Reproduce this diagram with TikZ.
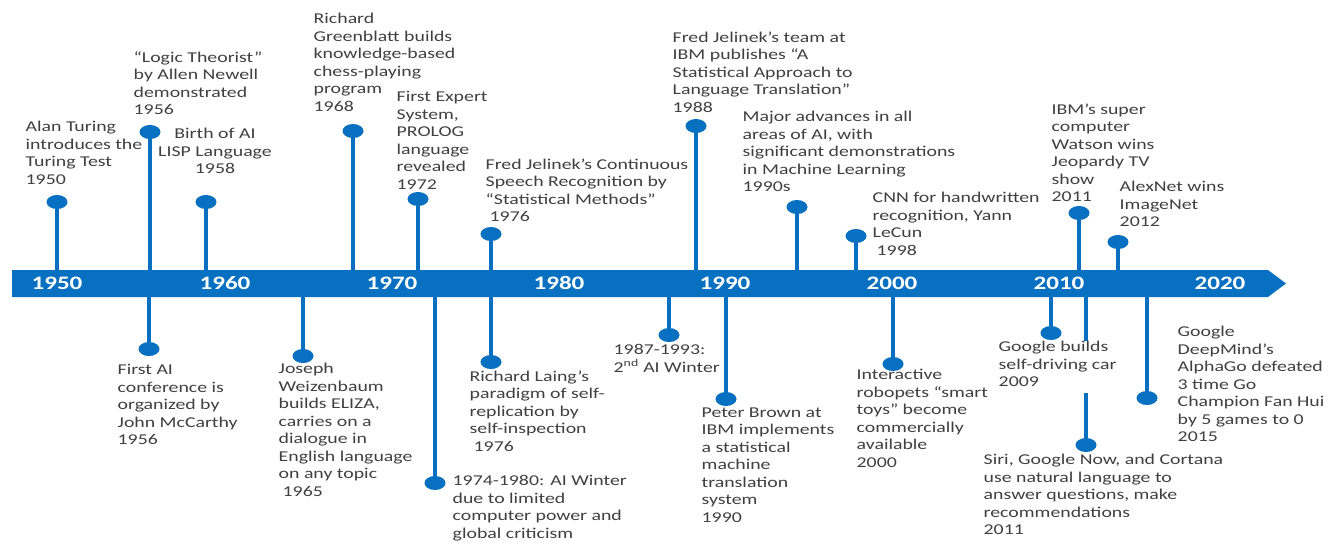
\documentclass[tikz,border=0pt]{standalone}
\usepackage{fontspec}
\setmainfont[FakeStretch=1.32]{Carlito}
\usetikzlibrary{shapes.geometric}
\definecolor{tlblue}{RGB}{8,112,192}
\definecolor{tltext}{RGB}{64,64,64}
\tikzset{
  stem/.style={draw=tlblue, line width=4.5pt},
  dot/.style={ellipse, minimum width=21pt, minimum height=14pt, inner sep=0pt},
  dotfill/.style={fill=tlblue},
  txt/.style={anchor=north west, yshift=12.25pt, align=left, inner sep=0.5pt, fill=white, text=tltext,
    font=\fontsize{15}{17.5}\selectfont, execute at begin node={\strut}},
  ctxt/.style={txt, anchor=north, align=center},
  year/.style={text=white, font=\fontsize{19}{22}\selectfont\bfseries, inner sep=0pt}
}
\begin{document}
\begin{tikzpicture}[x=1pt,y=-1pt]
\useasboundingbox (0,0) rectangle (1339,542);
\coordinate (bandtop) at (0,270);
\coordinate (bandbot) at (0,297);
% dot positions
\node[dot] (t1) at (57,202) {};
\node[dot] (t2) at (150,132) {};
\node[dot] (t3) at (206,202) {};
\node[dot] (t4) at (353,131) {};
\node[dot] (t5) at (418,199) {};
\node[dot] (t6) at (491,234) {};
\node[dot] (t7) at (696,126) {};
\node[dot] (t8) at (797,207) {};
\node[dot] (t9) at (856,236) {};
\node[dot] (t10) at (1079,213) {};
\node[dot] (t11) at (1118,242) {};
\node[dot] (b1) at (149,349) {};
\node[dot] (b2) at (303,356) {};
\node[dot] (b3) at (435,483) {};
\node[dot] (b4) at (491,362) {};
\node[dot] (b5) at (669,335) {};
\node[dot] (b6) at (726,399) {};
\node[dot] (b7) at (893,364) {};
\node[dot] (b8) at (1051,333) {};
\node[dot] (b9) at (1086,445) {};
\node[dot] (b10) at (1147,398) {};
% stems
\foreach \n in {t1,t2,t3,t4,t5,t6,t7,t8,t9,t10,t11}
  \draw[stem] (\n.center) -- (\n.center |- bandtop);
\foreach \n in {b1,b2,b3,b4,b5,b6,b7,b8,b9,b10}
  \draw[stem] (\n.center) -- (\n.center |- bandbot);
% band
\fill[tlblue] (12,270) -- (1268,270) -- (1286,283.5) -- (1268,297) -- (12,297) -- cycle;
\node[year] (y1950) at (57,283.5) {1950};
\node[year] (y1960) at (225,283.5) {1960};
\node[year] (y1970) at (392,283.5) {1970};
\node[year] (y1980) at (559,283.5) {1980};
\node[year] (y1990) at (725,283.5) {1990};
\node[year] (y2000) at (892,283.5) {2000};
\node[year] (y2010) at (1059,283.5) {2010};
\node[year] (y2020) at (1220,283.5) {2020};
% top texts
\node[txt] (l1) at (25,133) {Alan Turing\\introduces the\\Turing Test\\1950};
\node[txt] (l2) at (133,63) {“Logic Theorist”\\by Allen Newell\\demonstrated\\1956};
\node[ctxt] (l3) at (215,140) {Birth of AI\\LISP Language\\1958};
\node[txt] (l4) at (313,25) {Richard\\Greenblatt builds\\knowledge-based\\chess-playing\\program\\1968};
\node[txt] (l5) at (396,103) {First Expert\\System,\\PROLOG\\language\\revealed\\1972};
\node[txt] (l6) at (485,170) {Fred Jelinek’s Continuous\\Speech Recognition by\\“Statistical Methods”\\\hspace{4pt}1976};
\node[txt] (l7) at (672,43) {Fred Jelinek’s team at\\IBM publishes “A\\Statistical Approach to\\Language Translation”\\1988};
\node[txt] (l8) at (742,123) {Major advances in all\\areas of AI, with\\significant demonstrations\\in Machine Learning\\1990s};
\node[txt] (l9) at (872,204) {CNN for handwritten\\recognition, Yann\\LeCun\\\hspace{4pt}1998};
\node[txt] (l10) at (1051,115) {IBM’s super\\computer\\Watson wins\\Jeopardy TV\\show\\2011};
\node[txt] (l11) at (1119,193) {AlexNet wins\\ImageNet\\2012};
% bottom texts
\node[txt] (m1) at (117,376) {First AI\\conference is\\organized by\\John McCarthy\\1956};
\node[txt] (m2) at (278,375) {Joseph\\Weizenbaum\\builds ELIZA,\\carries on a\\dialogue in\\English language\\on any topic\\\hspace{4pt}1965};
\node[txt] (m3) at (452,487) {1974-1980: AI Winter\\due to limited\\computer power and\\global criticism};
\node[txt] (m4) at (469,382) {Richard Laing’s\\paradigm of self-\\replication by\\self-inspection\\\hspace{4pt}1976};
\node[txt] (m5) at (613,356) {1987-1993:\\2\textsuperscript{nd} AI Winter};
\node[txt] (m6) at (701,419) {Peter Brown at\\IBM implements\\a statistical\\machine\\translation\\system\\1990};
\node[txt] (m7) at (856,381) {Interactive\\robopets “smart\\toys” become\\commercially\\available\\2000};
\node[txt] (m8) at (998,353) {Google builds\\self-driving car\\2009};
\node[txt] (m9) at (983,466) {Siri, Google Now, and Cortana\\use natural language to\\answer questions, make\\recommendations\\2011};
\node[txt] (m10) at (1177,338) {Google\\DeepMind’s\\AlphaGo defeated\\3 time Go\\Champion Fan Hui\\by 5 games to 0\\2015};
% dots on top
\foreach \n in {t1,t2,t3,t4,t5,t6,t7,t8,t9,t10,t11,b1,b2,b3,b4,b5,b6,b7,b8,b9,b10}
  \fill[dotfill] (\n.center) ellipse (10.5pt and 7pt);
\end{tikzpicture}
\end{document}
